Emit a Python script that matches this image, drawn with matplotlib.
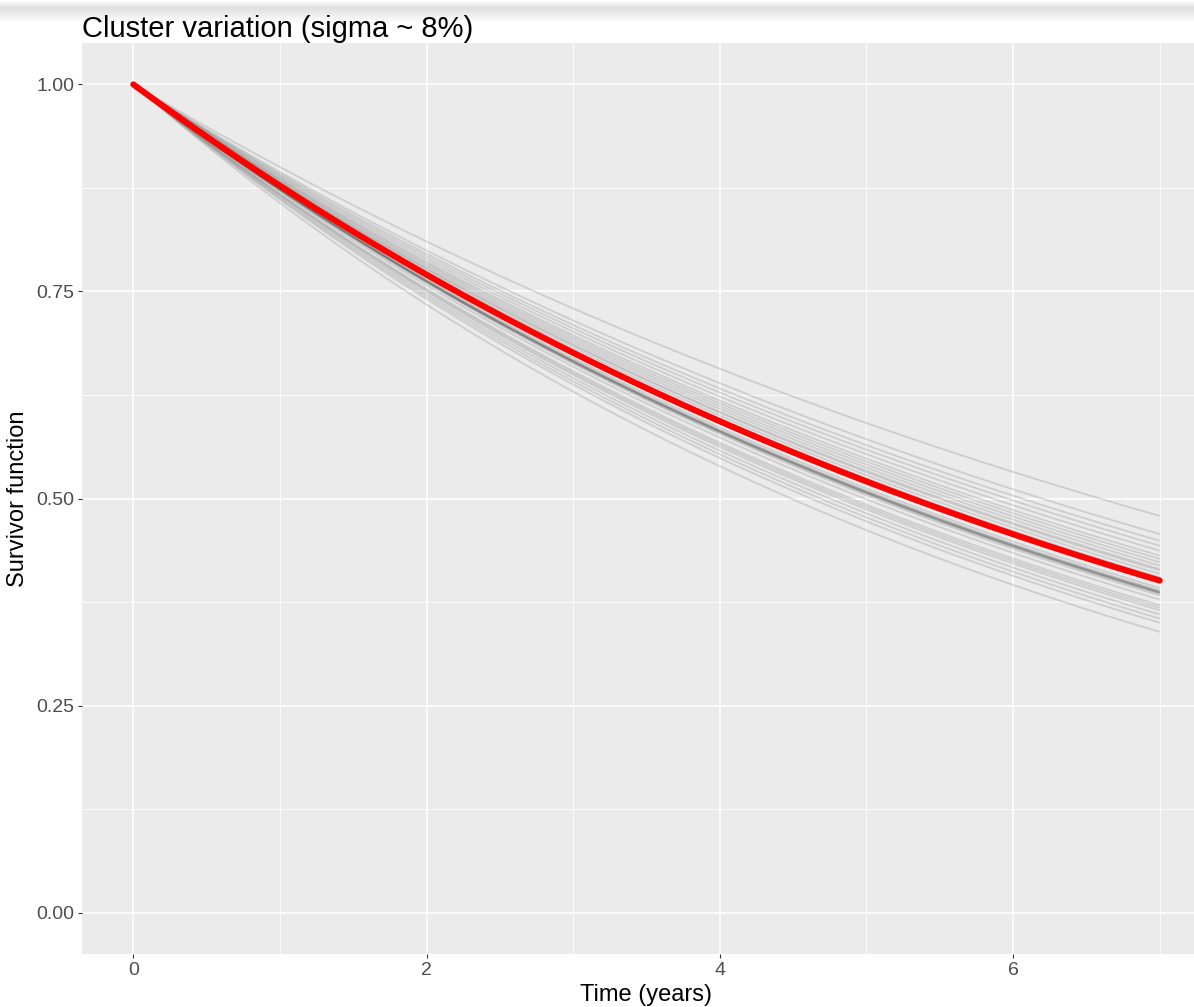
import matplotlib
matplotlib.use("Agg")
import matplotlib.pyplot as plt
import numpy as np

cluster_s7 = [0.479, 0.457, 0.449, 0.443, 0.437, 0.431, 0.427, 0.423, 0.419,
              0.415, 0.413, 0.409, 0.405, 0.402, 0.398, 0.392, 0.389, 0.388,
              0.387, 0.387, 0.386, 0.386, 0.385, 0.383, 0.378, 0.371, 0.368,
              0.365, 0.360, 0.355, 0.350, 0.339]
# overall (red) curve
overall_s7 = 0.401
t_max = 7.0

x_ticks = [0, 2, 4, 6]
y_ticks = [0.00, 0.25, 0.50, 0.75, 1.00]
y_ticklabels = ["0.00", "0.25", "0.50", "0.75", "1.00"]

plt.rcParams['font.family'] = ['Liberation Sans', 'DejaVu Sans']

W, H = 1194, 1007
fig = plt.figure(figsize=(W / 100, H / 100), dpi=100)
fig.patch.set_facecolor('white')

# screenshot shadow at the very top
shadow = fig.add_axes([0, 1 - 24 / H, 1, 24 / H])
grad = np.concatenate([np.linspace(1.0, 0.88, 8), np.linspace(0.88, 1.0, 16)])
shadow.imshow(grad[:, None], cmap='gray', vmin=0, vmax=1, aspect='auto',
              extent=[0, 1, 0, 1])
shadow.axis('off')

ax = fig.add_axes([82 / W, (H - 954) / H, (1211 - 82) / W, (954 - 43) / H])
ax.set_facecolor('#EBEBEB')

t = np.linspace(0, t_max, 200)
for s7 in cluster_s7:
    rate = -np.log(s7) / t_max
    ax.plot(t, np.exp(-rate * t), color='#555555', alpha=0.2, lw=1.3,
            solid_capstyle='butt', zorder=2)

rate = -np.log(overall_s7) / t_max
ax.plot(t, np.exp(-rate * t), color='#FF0000', lw=4.4, solid_capstyle='round',
        zorder=3)

ax.set_xlim(-0.35, 7.35)
ax.set_ylim(-0.05, 1.05)
ax.set_xticks(x_ticks)
ax.set_xticklabels([str(v) for v in x_ticks])
ax.set_yticks(y_ticks)
ax.set_yticklabels(y_ticklabels)
ax.set_xticks([1, 3, 5, 7], minor=True)
ax.set_yticks([0.125, 0.375, 0.625, 0.875], minor=True)

ax.grid(which='major', color='white', lw=1.1, zorder=0)
ax.grid(which='minor', color='white', lw=0.55, zorder=0)
ax.set_axisbelow(True)
for sp in ax.spines.values():
    sp.set_visible(False)

ax.tick_params(which='major', length=3, width=0.8, color='#333333',
               labelcolor='#4D4D4D', labelsize=14, pad=2.5)
ax.tick_params(which='minor', length=0)

ax.set_xlabel("Time (years)", fontsize=17, color='black', labelpad=4)
ax.set_ylabel("Survivor function", fontsize=17, color='black', labelpad=5)
ax.set_title("Cluster variation (sigma ~ 8%)", loc='left', fontsize=21,
             color='black', pad=2)

fig.savefig("out.png", dpi=100)
